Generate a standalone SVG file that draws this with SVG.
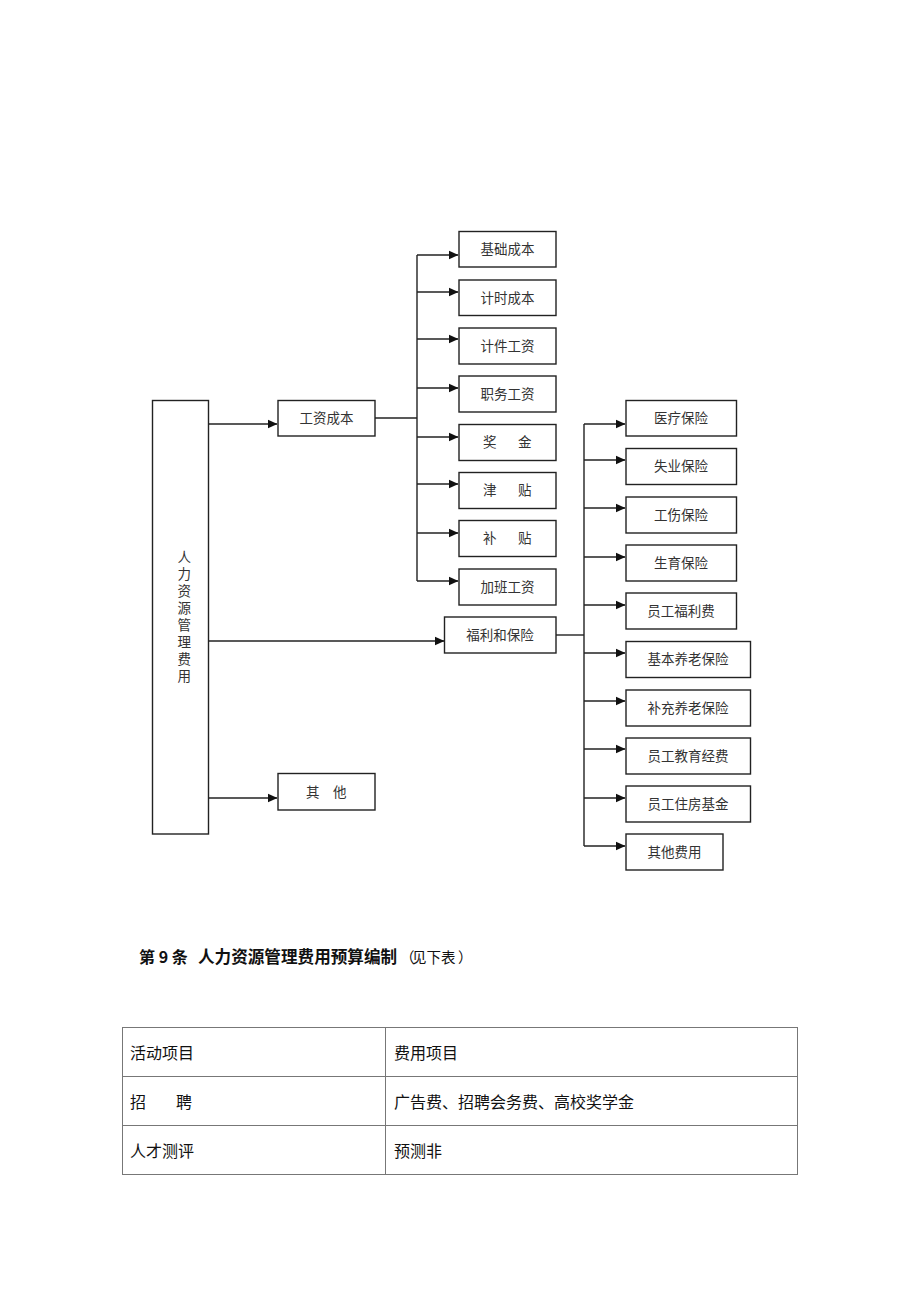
<svg xmlns="http://www.w3.org/2000/svg" width="920" height="1302" viewBox="0 0 920 1302">
<style>
.box{fill:#fff;stroke:#222;stroke-width:1.4}
.t{font-family:"Noto Sans CJK SC","Liberation Sans",sans-serif;font-size:13.5px;fill:#333;text-anchor:middle}
.tv{font-family:"Noto Sans CJK SC","Liberation Sans",sans-serif;font-size:13.5px;fill:#333}
.c{fill:none;stroke:#222;stroke-width:1.4}
.tb{fill:none;stroke:#777;stroke-width:1}
.tt{font-family:"Noto Sans CJK SC","Liberation Sans",sans-serif;font-size:16px;fill:#111}
.h{font-family:"Noto Sans CJK SC","Liberation Sans",sans-serif;fill:#111}
</style>
<defs>
<marker id="ah" markerWidth="10" markerHeight="10" refX="9.5" refY="5" orient="auto" markerUnits="userSpaceOnUse">
<path d="M0,0.5 L10,5 L0,9.5 Z" fill="#111"/>
</marker>
</defs>
<rect width="920" height="1302" fill="#fff"/>

<g id="connectors">
<line class="c" x1="208" y1="424" x2="277" y2="424" marker-end="url(#ah)"/>
<line class="c" x1="208" y1="641" x2="444" y2="641" marker-end="url(#ah)"/>
<line class="c" x1="208" y1="798" x2="277" y2="798" marker-end="url(#ah)"/>
<line class="c" x1="375" y1="418" x2="417" y2="418"/>
<line class="c" x1="417" y1="255" x2="417" y2="581"/>
<line class="c" x1="417" y1="255" x2="458" y2="255" marker-end="url(#ah)"/>
<line class="c" x1="417" y1="292" x2="458" y2="292" marker-end="url(#ah)"/>
<line class="c" x1="417" y1="339" x2="458" y2="339" marker-end="url(#ah)"/>
<line class="c" x1="417" y1="388" x2="458" y2="388" marker-end="url(#ah)"/>
<line class="c" x1="417" y1="437" x2="458" y2="437" marker-end="url(#ah)"/>
<line class="c" x1="417" y1="484" x2="458" y2="484" marker-end="url(#ah)"/>
<line class="c" x1="417" y1="533" x2="458" y2="533" marker-end="url(#ah)"/>
<line class="c" x1="417" y1="581" x2="458" y2="581" marker-end="url(#ah)"/>
<line class="c" x1="556" y1="635" x2="584" y2="635"/>
<line class="c" x1="584" y1="424" x2="584" y2="846"/>
<line class="c" x1="584" y1="424" x2="625" y2="424" marker-end="url(#ah)"/>
<line class="c" x1="584" y1="460" x2="625" y2="460" marker-end="url(#ah)"/>
<line class="c" x1="584" y1="508" x2="625" y2="508" marker-end="url(#ah)"/>
<line class="c" x1="584" y1="557" x2="625" y2="557" marker-end="url(#ah)"/>
<line class="c" x1="584" y1="605" x2="625" y2="605" marker-end="url(#ah)"/>
<line class="c" x1="584" y1="653" x2="625" y2="653" marker-end="url(#ah)"/>
<line class="c" x1="584" y1="701" x2="625" y2="701" marker-end="url(#ah)"/>
<line class="c" x1="584" y1="749" x2="625" y2="749" marker-end="url(#ah)"/>
<line class="c" x1="584" y1="798" x2="625" y2="798" marker-end="url(#ah)"/>
<line class="c" x1="584" y1="846" x2="625" y2="846" marker-end="url(#ah)"/>
</g>

<g id="n-root">
<rect class="box" x="152.5" y="400.5" width="56" height="433.5"/>
<text class="tv" x="177.5 177.5 177.5 177.5 177.5 177.5 177.5 177.5" y="562 579 596 613 630 647 664 681">人力资源管理费用</text>
</g>

<g id="n-gzcb"><rect class="box" x="278" y="400.5" width="97" height="35.5"/><text class="t" x="326.5" y="423">工资成本</text></g>
<g id="n-fl"><rect class="box" x="444.5" y="617" width="111.5" height="36"/><text class="t" x="500" y="640">福利和保险</text></g>
<g id="n-qt"><rect class="box" x="278" y="773.5" width="97" height="36.5"/><text class="tv" x="306 320 333" y="797">其 他</text></g>

<g id="n-jccb"><rect class="box" x="459" y="231.5" width="97" height="35.5"/><text class="t" x="507.5" y="254">基础成本</text></g>
<g id="n-jscb"><rect class="box" x="459" y="280" width="97" height="35.5"/><text class="t" x="507.5" y="303">计时成本</text></g>
<g id="n-jjgz"><rect class="box" x="459" y="328" width="97" height="36"/><text class="t" x="507.5" y="351">计件工资</text></g>
<g id="n-zwgz"><rect class="box" x="459" y="376" width="97" height="36"/><text class="t" x="507.5" y="399">职务工资</text></g>
<g id="n-jj"><rect class="box" x="459" y="424.5" width="97" height="36"/><text class="tv" x="483 497 518" y="447">奖 金</text></g>
<g id="n-jt"><rect class="box" x="459" y="472.5" width="97" height="36"/><text class="tv" x="483 497 518" y="495">津 贴</text></g>
<g id="n-bt"><rect class="box" x="459" y="520.5" width="97" height="36"/><text class="tv" x="483 497 518" y="543">补 贴</text></g>
<g id="n-jbgz"><rect class="box" x="459" y="569" width="97" height="36"/><text class="t" x="507.5" y="592">加班工资</text></g>

<g id="n-ylbx"><rect class="box" x="626" y="400.5" width="110.5" height="35.5"/><text class="t" x="681" y="423">医疗保险</text></g>
<g id="n-sybx"><rect class="box" x="626" y="448.5" width="110.5" height="36"/><text class="t" x="681" y="471">失业保险</text></g>
<g id="n-gsbx"><rect class="box" x="626" y="497" width="110.5" height="36"/><text class="t" x="681" y="520">工伤保险</text></g>
<g id="n-syb"><rect class="box" x="626" y="545" width="110.5" height="36"/><text class="t" x="681" y="568">生育保险</text></g>
<g id="n-ygflf"><rect class="box" x="626" y="593" width="110.5" height="36"/><text class="t" x="681" y="616">员工福利费</text></g>
<g id="n-jbyl"><rect class="box" x="626" y="641.5" width="124.5" height="36"/><text class="t" x="688" y="664">基本养老保险</text></g>
<g id="n-bcyl"><rect class="box" x="626" y="690" width="124.5" height="36"/><text class="t" x="688" y="713">补充养老保险</text></g>
<g id="n-ygjy"><rect class="box" x="626" y="738" width="124.5" height="36"/><text class="t" x="688" y="761">员工教育经费</text></g>
<g id="n-ygzf"><rect class="box" x="626" y="786" width="124.5" height="36"/><text class="t" x="688" y="809">员工住房基金</text></g>
<g id="n-qtfy"><rect class="box" x="626" y="834" width="97" height="36"/><text class="t" x="674.5" y="857">其他费用</text></g>

<g id="heading">
<text class="h" y="963"><tspan x="139" font-size="16" font-weight="bold">第 9 条</tspan><tspan x="198" font-size="16.6" font-weight="bold">人力资源管理费用预算编制</tspan></text>
<text class="h" y="963" font-size="14.5" x="400 412 426.5 441 458">（见下表）</text>
</g>

<g id="table">
<rect class="tb" x="122.5" y="1027.5" width="675" height="147"/>
<line class="tb" x1="385.5" y1="1027.5" x2="385.5" y2="1174.5"/>
<line class="tb" x1="122.5" y1="1076.5" x2="797.5" y2="1076.5"/>
<line class="tb" x1="122.5" y1="1125.5" x2="797.5" y2="1125.5"/>
<text class="tt" x="130" y="1059">活动项目</text>
<text class="tt" x="394" y="1059">费用项目</text>
<text class="tt" x="130 146 176" y="1108">招 聘</text>
<text class="tt" x="394" y="1108">广告费、招聘会务费、高校奖学金</text>
<text class="tt" x="130" y="1157">人才测评</text>
<text class="tt" x="394" y="1157">预测非</text>
</g>
</svg>
